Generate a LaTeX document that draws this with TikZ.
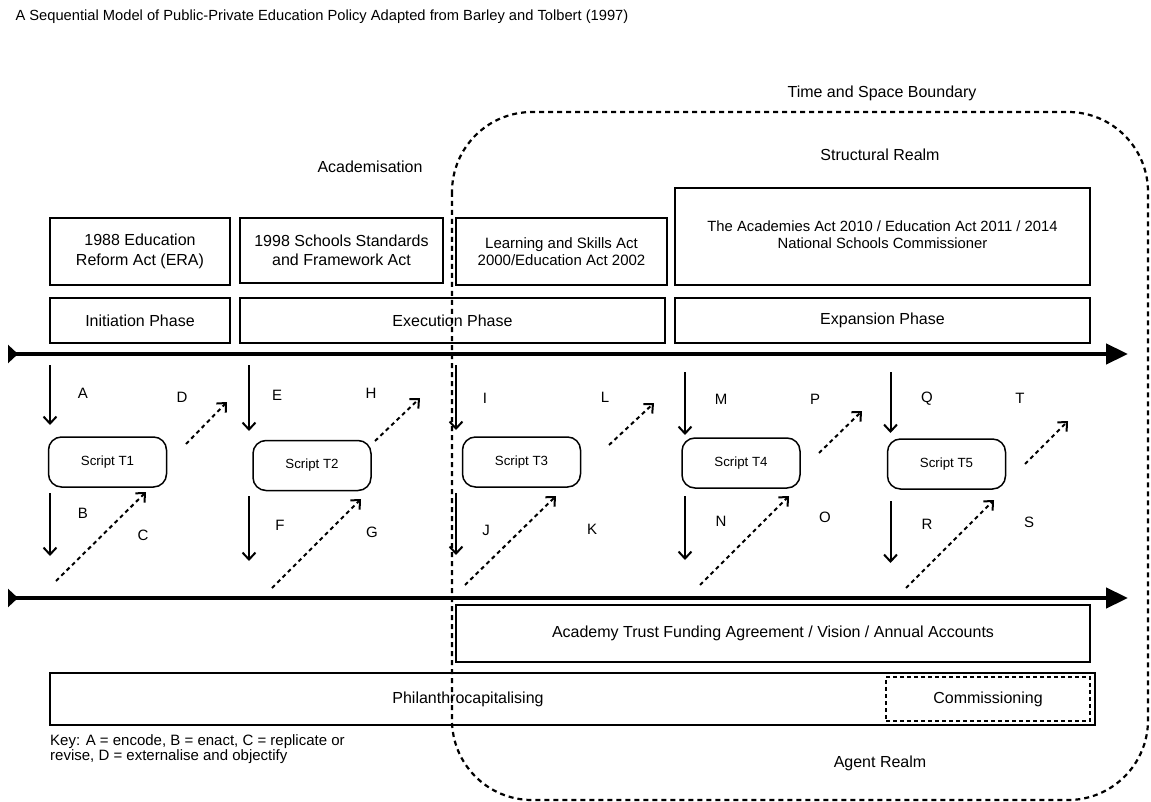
\documentclass[tikz,border=0pt]{standalone}
\usepackage{fontspec}
\setmainfont{Liberation Sans}
\usetikzlibrary{arrows.meta}

\begin{document}
\begin{tikzpicture}[x=1pt,y=-1pt,
  box/.style={draw,line width=1.5pt,inner sep=2pt,align=center,font=\fontsize{16}{19.5}\selectfont},
  script/.style={draw,line width=1.5pt,rounded corners=13pt,minimum height=50pt,minimum width=118pt,font=\fontsize{13.3}{15}\selectfont},
  lbl/.style={font=\fontsize{15}{17}\selectfont},
  txt/.style={font=\fontsize{16}{19}\selectfont},
  axis/.style={line width=4.5pt,{Triangle[reversed,length=10pt,width=18pt]}-{Triangle[length=22pt,width=20pt]}},
  down/.style={line width=2pt,-{Straight Barb[length=7pt,width=13pt,line width=2pt]}},
  ext/.style={line width=2pt,dash pattern=on 4pt off 3.5pt,-{Straight Barb[length=7pt,width=13pt,line width=2pt]}}]
\useasboundingbox (0,0) rectangle (1151,802);

\node[anchor=west,font=\fontsize{14.7}{17}\selectfont] (title) at (12,17)
  {A Sequential Model of Public-Private Education Policy Adapted from Barley and Tolbert (1997)};

\draw[line width=2.2pt,dash pattern=on 5pt off 4pt,rounded corners=80pt] (452,112) rectangle (1148,800);
\node[txt] (tsb) at (882,93) {Time and Space Boundary};
\node[txt] (sr) at (880,155) {Structural Realm};
\node[txt] (acad) at (370,167) {Academisation};
\node[txt] (ar) at (880,763) {Agent Realm};

\node[box,minimum width=180pt,minimum height=67pt] (era) at (140,251.5) {1988 Education\\Reform Act (ERA)};
\node[box,minimum width=203pt,minimum height=65pt] (ssfa) at (341.5,250.5) {1998 Schools Standards\\and Framework Act};
\node[box,minimum width=211pt,minimum height=67pt,font=\fontsize{15}{17}\selectfont] (lsa) at (561.5,251.5) {Learning and Skills Act\\2000/Education Act 2002};
\node[box,minimum width=415pt,minimum height=97pt] (acts) at (882.5,236.5) {};
\node[font=\fontsize{14.8}{16.5}\selectfont,align=center,anchor=north] (actstext) at (acts.north) [yshift=-30pt]
  {The Academies Act 2010 / Education Act 2011 / 2014\\National Schools Commissioner};

\node[box,minimum width=180pt,minimum height=45pt] (init) at (140,320.5) {Initiation Phase};
\node[box,minimum width=425pt,minimum height=45pt] (exec) at (452.5,320.5) {Execution Phase};
\node[box,minimum width=415pt,minimum height=45pt] (expa) at (882.5,320.5) {Expansion Phase};

\coordinate (t0) at (8,354);
\coordinate (t1) at (1128,354);
\coordinate (b0) at (8,598);
\coordinate (b1) at (1128,598);
\draw[axis] (t0) -- (t1);
\draw[axis] (b0) -- (b1);

\foreach \i/\x/\y in {1/107.5/462,2/312/465.5,3/521.5/462,4/741/463,5/946.5/464}
  \node[script] (s\i) at (\x,\y) {Script T\i};

\foreach \i/\x/\p/\q/\r/\s in {1/50/365/425/493/556,2/249/365/431/496/561,3/456/365/430/493/555,4/685/372/435/496/560,5/890.5/372/433/501/563}{
  \coordinate (en\i) at (\x,\p);
  \coordinate (ent\i) at (\x,\q);
  \coordinate (ac\i) at (\x,\r);
  \coordinate (act\i) at (\x,\s);
  \draw[down] (en\i) -- (ent\i);
  \draw[down] (ac\i) -- (act\i);
}

\foreach \i/\a/\b/\c/\d in {1/186/444/227/402,2/375/441/420/398,3/609/445/654/403,4/819/453/862/411,5/1025/464/1068/421}{
  \coordinate (ex\i) at (\a,\b);
  \coordinate (ext\i) at (\c,\d);
  \draw[ext] (ex\i) -- (ext\i);
}
\foreach \i/\a/\b/\c/\d in {1/56/581/146/492,2/272/588/361/499,3/465/585/556/496,4/700/585/789/496,5/906/588/994/500}{
  \coordinate (re\i) at (\a,\b);
  \coordinate (ret\i) at (\c,\d);
  \draw[ext] (re\i) -- (ret\i);
}

\foreach \n/\x/\y in {A/83/393,B/83/513,C/143/535,D/182/397,E/277/395,F/280/525,G/372/532,H/371/393,
  I/485/398,J/486/530,K/592/529,L/605/397,M/721/399,N/721/521,O/825/517,P/815/399,
  Q/927/399,R/927/524,S/1029/522,T/1020/398}
  \node[lbl] (l\n) at (\x,\y) {\n};

\node[box,minimum width=634pt,minimum height=57pt] (atfa) at (773,633.5) {Academy Trust Funding Agreement / Vision / Annual Accounts};
\node[box,minimum width=1045pt,minimum height=52pt] (phil) at (572.5,699) {};
\node[txt] (philtext) at (468,699) {Philanthrocapitalising};
\node[box,dash pattern=on 4pt off 3pt,minimum width=204pt,minimum height=44pt] (comm) at (988,699) {Commissioning};

\node[anchor=north west,align=left,inner sep=0pt,font=\fontsize{15}{15.5}\selectfont] (key) at (50,734)
  {Key: A = encode, B = enact, C = replicate or\\revise, D = externalise and objectify};
\end{tikzpicture}
\end{document}
